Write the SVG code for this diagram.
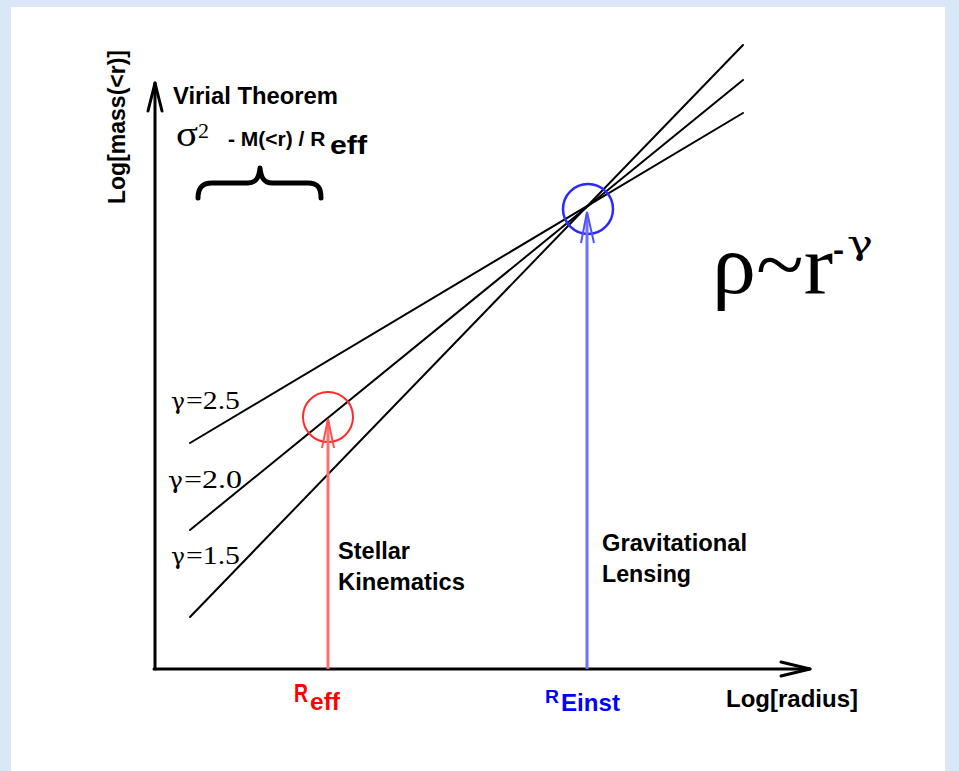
<svg xmlns="http://www.w3.org/2000/svg" width="959" height="771" viewBox="0 0 959 771">
<style>
.sans{font-family:"Liberation Sans",Arial,sans-serif;}
.b{font-weight:bold;}
.serif{font-family:"Liberation Serif","Times New Roman",serif;}
.g{font-family:"DejaVu Serif","Liberation Serif",serif;}
.ln{stroke:#000;stroke-width:2;fill:none;stroke-linecap:round;}
.ax{stroke:#000;stroke-width:3;fill:none;stroke-linecap:round;stroke-linejoin:round;}
</style>
<rect x="0" y="0" width="959" height="771" fill="#d9e7f7"/>
<rect x="11" y="7" width="934" height="764" fill="#ffffff"/>

<g id="axes">
  <path class="ax" d="M155,669 L155,83"/>
  <path class="ax" d="M148,111 L155,83 L162,111"/>
  <path class="ax" d="M154,669 L810,669"/>
  <path class="ax" d="M781,662 L810,669 L781,676"/>
  <text class="sans b" font-size="23" text-anchor="middle" transform="translate(125,127) rotate(-90)">Log[mass(&lt;r)]</text>
  <text class="sans b" x="726" y="707" font-size="24" textLength="132" lengthAdjust="spacingAndGlyphs">Log[radius]</text>
</g>

<g id="connectors">
  <line class="ln" x1="190" y1="443" x2="743" y2="113"/>
  <line class="ln" x1="190" y1="530" x2="743" y2="80"/>
  <line class="ln" x1="190" y1="617" x2="743" y2="45"/>
</g>

<g id="labels-gamma" class="serif" font-size="26">
  <text x="171" y="409"><tspan class="g" font-size="22" textLength="14" lengthAdjust="spacingAndGlyphs">γ</tspan><tspan x="186" textLength="54" lengthAdjust="spacingAndGlyphs">=2.5</tspan></text>
  <text x="168" y="488"><tspan class="g" font-size="22" textLength="15" lengthAdjust="spacingAndGlyphs">γ</tspan><tspan x="184" textLength="58" lengthAdjust="spacingAndGlyphs">=2.0</tspan></text>
  <text x="171" y="564"><tspan class="g" font-size="22" textLength="14" lengthAdjust="spacingAndGlyphs">γ</tspan><tspan x="186" textLength="54" lengthAdjust="spacingAndGlyphs">=1.5</tspan></text>
</g>

<g id="virial">
  <text class="sans b" x="173" y="104" font-size="23" textLength="165" lengthAdjust="spacingAndGlyphs">Virial Theorem</text>
  <text class="serif" x="176" y="146" font-size="36" textLength="22" lengthAdjust="spacingAndGlyphs">σ</text>
  <text class="serif" x="198" y="138" font-size="22">2</text>
  <text class="sans" x="228" y="146" font-size="21" font-weight="600">- M(&lt;r) / R</text>
  <text class="sans b" x="330" y="154" font-size="25" textLength="37" lengthAdjust="spacingAndGlyphs">eff</text>
  <path d="M198,198 C198,188 202,183 212,183 L248,183 C256,183 259,178 260,168 C261,178 264,183 272,183 L308,183 C318,183 321,188 321,198" fill="none" stroke="#000" stroke-width="5" stroke-linecap="round" stroke-linejoin="round"/>
</g>

<g id="stellar">
  <circle cx="328" cy="417" r="25" fill="none" stroke="#ff2a2a" stroke-width="2"/>
  <line x1="328" y1="669" x2="328" y2="421" stroke="#ff7070" stroke-width="3"/>
  <path d="M322,448 L328,419 L334,448" fill="none" stroke="#ff5050" stroke-width="2"/>
  <text class="sans b" x="338" y="559" font-size="24" textLength="72" lengthAdjust="spacingAndGlyphs">Stellar</text>
  <text class="sans b" x="338" y="590" font-size="24" textLength="127" lengthAdjust="spacingAndGlyphs">Kinematics</text>
  <text class="sans b" x="294" y="702" font-size="26" fill="#ff0000" textLength="14" lengthAdjust="spacingAndGlyphs">R</text>
  <text class="sans b" x="310" y="710" font-size="23" fill="#ff0000" textLength="30" lengthAdjust="spacingAndGlyphs">eff</text>
</g>

<g id="lensing">
  <circle cx="588" cy="209" r="25" fill="none" stroke="#2a2aff" stroke-width="2.5"/>
  <line x1="587" y1="669" x2="587" y2="214" stroke="#7070ff" stroke-width="3"/>
  <path d="M581,243 L587,212 L594,243" fill="none" stroke="#5050ff" stroke-width="2"/>
  <text class="sans b" x="602" y="551" font-size="24" textLength="145" lengthAdjust="spacingAndGlyphs">Gravitational</text>
  <text class="sans b" x="602" y="582" font-size="24" textLength="89" lengthAdjust="spacingAndGlyphs">Lensing</text>
  <text class="sans b" x="545" y="703" font-size="19" fill="#0000ff" textLength="14" lengthAdjust="spacingAndGlyphs">R</text>
  <text class="sans b" x="561" y="711" font-size="24" fill="#0000ff" textLength="59" lengthAdjust="spacingAndGlyphs">Einst</text>
</g>

<g id="formula" class="serif">
  <text x="712" y="293" font-size="84" textLength="121" lengthAdjust="spacingAndGlyphs">ρ~r</text>
  <text x="833" y="262" font-size="40" font-weight="bold" textLength="11" lengthAdjust="spacingAndGlyphs">-</text>
  <text class="g" x="847" y="254" font-size="32" textLength="26" lengthAdjust="spacingAndGlyphs">γ</text>
</g>
</svg>
